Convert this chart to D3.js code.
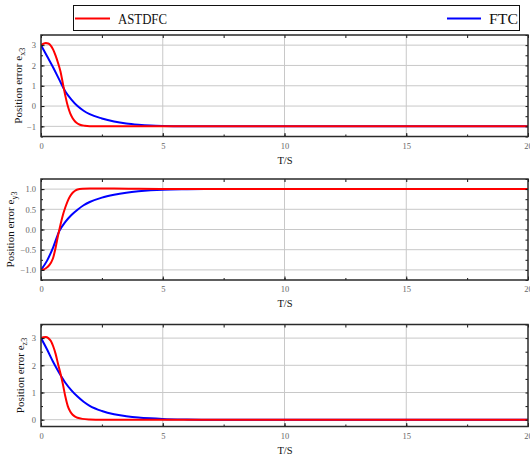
<!DOCTYPE html>
<html>
<head>
<meta charset="utf-8">
<script src="https://cdn.jsdelivr.net/npm/d3@7"></script>
<style>
  html, body { margin: 0; padding: 0; background: #fff; }
  svg { display: block; }
</style>
</head>
<body>
<script>
// ---------- DATA ----------
const seriesNames = ["ASTDFC", "FTC"];
const xTicks = [0, 5, 10, 15, 20];

// Panel 1: e_x3
const tRedX  = [0, 0.1, 0.2, 0.3, 0.4, 0.5, 0.6, 0.7, 0.8, 0.9, 1.0, 1.1, 1.2, 1.3, 1.4, 1.5, 1.6, 1.8, 2.0, 2.5, 3, 20];
const redX   = [3.0, 3.07, 3.1, 3.08, 2.98, 2.78, 2.48, 2.12, 1.7, 1.1, 0.5, 0.0, -0.36, -0.6, -0.76, -0.86, -0.92, -0.97, -0.99, -1.0, -1.0, -1.0];
const tBlueX = [0, 0.25, 0.5, 0.75, 1.0, 1.25, 1.5, 1.75, 2.0, 2.5, 3.0, 3.5, 4.0, 4.5, 5.0, 6.0, 8.0, 20];
const blueX  = [3.0, 2.45, 1.9, 1.3, 0.72, 0.32, 0.0, -0.23, -0.40, -0.61, -0.76, -0.86, -0.92, -0.96, -0.98, -0.995, -1.0, -1.0];
const yTicksX = [-1, 0, 1, 2, 3];

// Panel 2: e_y3
const tRedY  = [0, 0.1, 0.2, 0.3, 0.4, 0.5, 0.6, 0.7, 0.8, 0.9, 1.0, 1.1, 1.2, 1.3, 1.4, 1.5, 1.7, 2.0, 3.0, 4.0, 6.0, 8.0, 20];
const redY   = [-1.0, -0.99, -0.96, -0.91, -0.83, -0.7, -0.45, -0.15, 0.12, 0.36, 0.55, 0.71, 0.83, 0.91, 0.96, 0.99, 1.01, 1.015, 1.012, 1.006, 1.002, 1.0, 1.0];
const tBlueY = [0, 0.25, 0.5, 0.75, 1.0, 1.25, 1.5, 1.75, 2.0, 2.5, 3.0, 3.5, 4.0, 4.5, 5.0, 6.0, 7.0, 20];
const blueY  = [-1.0, -0.77, -0.44, -0.04, 0.19, 0.36, 0.49, 0.6, 0.68, 0.79, 0.86, 0.91, 0.945, 0.97, 0.985, 0.995, 1.0, 1.0];
const yTicksY = [-1.0, -0.5, 0.0, 0.5, 1.0];

// Panel 3: e_z3
const tRedZ  = [0, 0.1, 0.2, 0.3, 0.4, 0.5, 0.6, 0.7, 0.8, 0.9, 1.0, 1.1, 1.2, 1.3, 1.4, 1.5, 1.7, 2.0, 2.5, 20];
const redZ   = [3.0, 3.03, 3.04, 3.0, 2.9, 2.7, 2.42, 2.05, 1.7, 1.3, 0.85, 0.5, 0.3, 0.18, 0.11, 0.07, 0.03, 0.01, 0.0, 0.0];
const tBlueZ = [0, 0.25, 0.5, 0.75, 1.0, 1.25, 1.5, 1.75, 2.0, 2.5, 3.0, 3.5, 4.0, 4.5, 5.0, 6.0, 7.0, 20];
const blueZ  = [3.0, 2.58, 2.12, 1.72, 1.36, 1.08, 0.85, 0.66, 0.51, 0.32, 0.2, 0.13, 0.08, 0.05, 0.03, 0.01, 0.0, 0.0];
const yTicksZ = [0, 1, 2, 3];

// ---------- LAYOUT ----------
const W = 530, H = 458;
const xLeft = 41, xRight = 528;
const colors = {red: "#ff0000", blue: "#0000ff"};
const serif = "'Liberation Serif', 'DejaVu Serif', serif";

const panels = [
  {top: 35,    bottom: 136.5, domain: [-1.5, 3.5],  ticks: yTicksX, minor: 0.5,  fmt: d3.format("d"),   sub: "x3",
   red: [tRedX, redX], blue: [tBlueX, blueX], labelX: 22},
  {top: 179,   bottom: 280,   domain: [-1.25, 1.25], ticks: yTicksY, minor: 0.25, fmt: d3.format(".1f"), sub: "y3",
   red: [tRedY, redY], blue: [tBlueY, blueY], labelX: 14},
  {top: 324.5, bottom: 426.5, domain: [-0.25, 3.5], ticks: yTicksZ, minor: 0.5,  fmt: d3.format("d"),   sub: "z3",
   red: [tRedZ, redZ], blue: [tBlueZ, blueZ], labelX: 24}
];

const svg = d3.select("body").append("svg").attr("width", W).attr("height", H);

const x = d3.scaleLinear().domain([0, 20]).range([xLeft, xRight]);
const xMinor = d3.range(0, 20.01, 2.5);

panels.forEach((p, i) => {
  const y = d3.scaleLinear().domain(p.domain).range([p.bottom, p.top]);
  const g = svg.append("g");

  const clipId = "clip" + i;
  svg.append("clipPath").attr("id", clipId).append("rect")
    .attr("x", xLeft).attr("y", p.top).attr("width", xRight - xLeft).attr("height", p.bottom - p.top);

  // grid
  g.selectAll(".gx").data(xTicks.slice(1, -1)).join("line")
    .attr("x1", d => x(d)).attr("x2", d => x(d)).attr("y1", p.top).attr("y2", p.bottom)
    .attr("stroke", "#c8c8c8").attr("stroke-width", 1);
  g.selectAll(".gy").data(p.ticks).join("line")
    .attr("x1", xLeft).attr("x2", xRight).attr("y1", d => y(d)).attr("y2", d => y(d))
    .attr("stroke", "#c8c8c8").attr("stroke-width", 1);

  // curves
  const line = d3.line().x(d => x(d[0])).y(d => y(d[1])).curve(d3.curveMonotoneX);
  const mk = s => s[0].map((t, k) => [t, s[1][k]]);
  const cg = g.append("g").attr("clip-path", `url(#${clipId})`);
  cg.append("path").datum(mk(p.blue)).attr("d", line)
    .attr("fill", "none").attr("stroke", colors.blue).attr("stroke-width", 2);
  cg.append("path").datum(mk(p.red)).attr("d", line)
    .attr("fill", "none").attr("stroke", colors.red).attr("stroke-width", 2);

  // bottom axis (ticks inward)
  const xa = g.append("g").attr("transform", `translate(0,${p.bottom})`)
    .call(d3.axisBottom(x).tickValues(xTicks).tickSize(-3.5).tickPadding(6).tickFormat(d3.format("d")));
  xa.select(".domain").remove();
  const xam = g.append("g").attr("transform", `translate(0,${p.bottom})`)
    .call(d3.axisBottom(x).tickValues(xMinor).tickSize(-2).tickFormat(""));
  xam.select(".domain").remove();
  // top ticks
  const xt = g.append("g").attr("transform", `translate(0,${p.top})`)
    .call(d3.axisTop(x).tickValues(xMinor).tickSize(-3).tickFormat(""));
  xt.select(".domain").remove();

  // left axis
  const ya = g.append("g").attr("transform", `translate(${xLeft},0)`)
    .call(d3.axisLeft(y).tickValues(p.ticks).tickSize(-3.5).tickPadding(5).tickFormat(p.fmt));
  ya.select(".domain").remove();
  const minorVals = d3.range(p.ticks[0] - p.minor, p.ticks[p.ticks.length - 1] + p.minor + 1e-9, p.minor)
    .filter(v => v >= p.domain[0] && v <= p.domain[1]);
  const yam = g.append("g").attr("transform", `translate(${xLeft},0)`)
    .call(d3.axisLeft(y).tickValues(minorVals).tickSize(-2).tickFormat(""));
  yam.select(".domain").remove();
  const yr = g.append("g").attr("transform", `translate(${xRight},0)`)
    .call(d3.axisRight(y).tickValues(minorVals).tickSize(-2.5).tickFormat(""));
  yr.select(".domain").remove();

  g.selectAll(".tick line").attr("stroke", "#111");
  g.selectAll(".tick text").attr("font-family", serif).attr("font-size", 8.5).attr("fill", "#666");

  // frame
  g.append("rect").attr("x", xLeft).attr("y", p.top).attr("width", xRight - xLeft).attr("height", p.bottom - p.top)
    .attr("fill", "none").attr("stroke", "#2a2a2a").attr("stroke-width", 1.5);

  // x label
  g.append("text").attr("x", (xLeft + xRight) / 2 + 0.5).attr("y", p.bottom + 27)
    .attr("text-anchor", "middle").attr("font-family", serif).attr("font-size", 10.5).attr("fill", "#111")
    .text("T/S");

  // y label
  const yl = g.append("text")
    .attr("transform", `translate(${p.labelX},${(p.top + p.bottom) / 2}) rotate(-90)`)
    .attr("text-anchor", "middle").attr("font-family", serif).attr("font-size", 11).attr("fill", "#111");
  yl.append("tspan").text("Position error e");
  yl.append("tspan").attr("font-size", 8).attr("dy", 3).text(p.sub);
});

// legend
const lg = svg.append("g");
lg.append("rect").attr("x", 73.5).attr("y", 5.5).attr("width", 446).attr("height", 25)
  .attr("fill", "#fff").attr("stroke", "#111").attr("stroke-width", 1);
lg.append("line").attr("x1", 75).attr("x2", 110).attr("y1", 18.5).attr("y2", 18.5)
  .attr("stroke", colors.red).attr("stroke-width", 2);
lg.append("text").attr("x", 118).attr("y", 24).attr("font-family", serif).attr("font-size", 15)
  .attr("textLength", 49).attr("lengthAdjust", "spacingAndGlyphs").attr("fill", "#111").text(seriesNames[0]);
lg.append("line").attr("x1", 447).attr("x2", 481).attr("y1", 18.5).attr("y2", 18.5)
  .attr("stroke", colors.blue).attr("stroke-width", 2);
lg.append("text").attr("x", 489).attr("y", 24).attr("font-family", serif).attr("font-size", 15)
  .attr("textLength", 29).attr("lengthAdjust", "spacingAndGlyphs").attr("fill", "#111").text(seriesNames[1]);
</script>
</body>
</html>
